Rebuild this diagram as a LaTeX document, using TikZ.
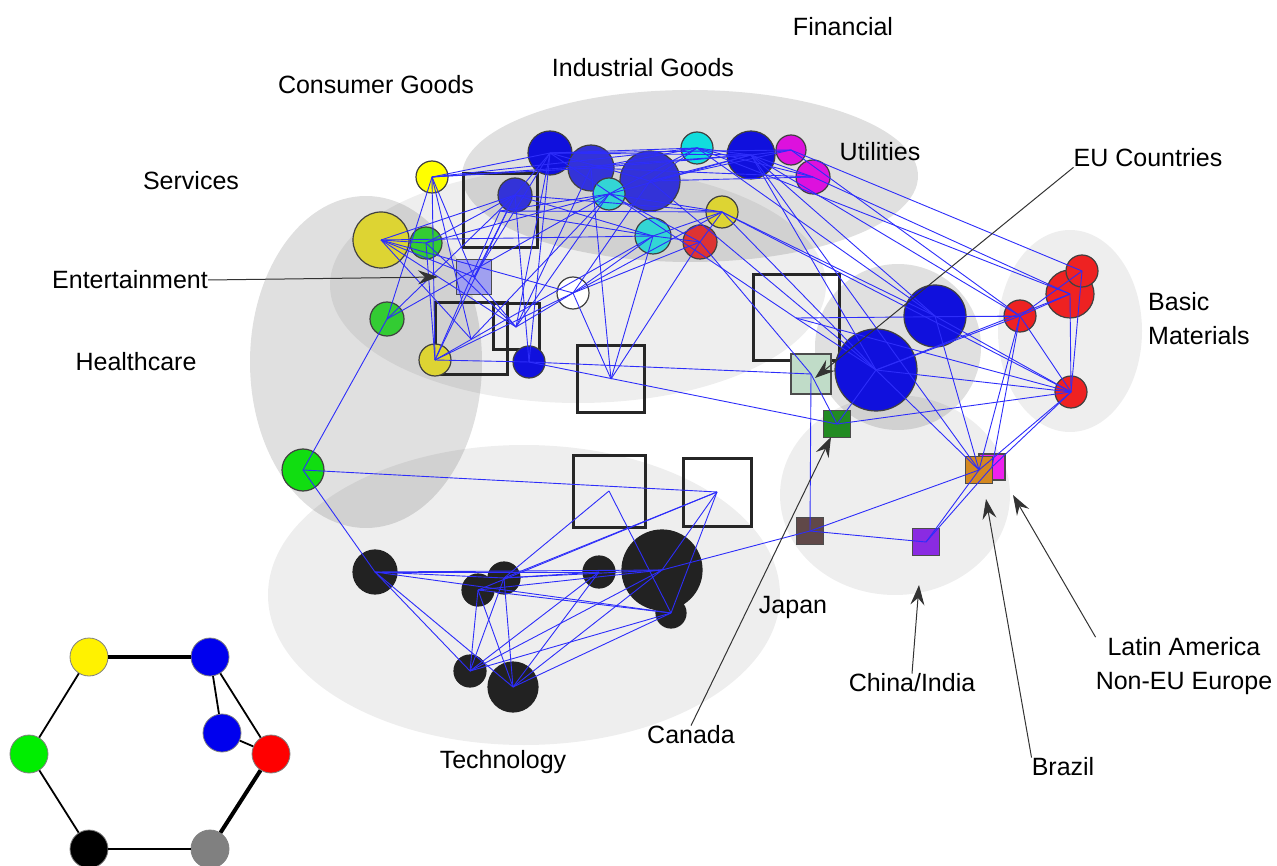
\documentclass[tikz,border=0pt]{standalone}
\usepackage{fontspec}
\setmainfont{Liberation Sans}
\usetikzlibrary{arrows.meta}

\definecolor{linkblue}{RGB}{45,45,250}
\definecolor{nblue}{RGB}{16,16,221}
\definecolor{nblueb}{RGB}{51,51,216}
\definecolor{ncyan}{RGB}{17,221,221}
\definecolor{ncyanb}{RGB}{51,213,213}
\definecolor{nmag}{RGB}{221,17,221}
\definecolor{nyel}{RGB}{255,255,0}
\definecolor{nyelb}{RGB}{221,212,51}
\definecolor{ngreen}{RGB}{51,204,51}
\definecolor{ngreenb}{RGB}{17,221,17}
\definecolor{nred}{RGB}{221,51,51}
\definecolor{nredb}{RGB}{238,34,34}
\definecolor{nblack}{RGB}{34,34,34}
\definecolor{entfill}{RGB}{160,160,240}
\definecolor{eufill}{RGB}{192,220,200}
\definecolor{canfill}{RGB}{34,139,34}
\definecolor{japfill}{RGB}{96,72,72}
\definecolor{chifill}{RGB}{138,43,226}
\definecolor{latfill}{RGB}{238,34,238}
\definecolor{brafill}{RGB}{212,136,32}

\begin{document}
\begin{tikzpicture}[x=1pt, y=-1pt, >=Stealth,
        bub/.style={circle, draw=black!75, line width=1.2pt, inner sep=0pt},
        sqbox/.style={draw=black!85, line width=3pt, inner sep=0pt},
        fillsq/.style={draw=black!70, line width=1.2pt, inner sep=0pt},
        link/.style={draw=linkblue, line width=0.9pt},
        lbl/.style={font=\fontsize{25}{34}\selectfont, inner sep=0pt},
        pointer/.style={-{Stealth[length=20pt,width=14pt,inset=7pt]}, draw=black!80, line width=1pt},
        lightblob/.style={fill=black, fill opacity=0.065},
        darkblob/.style={fill=black, fill opacity=0.12},
        legnode/.style={circle, draw=black!50, line width=0.8pt, inner sep=0pt, minimum size=38pt}]

    \useasboundingbox (0,0) rectangle (1277,866);

    % grey areas
    \path[darkblob] (690,176) ellipse [x radius=228pt, y radius=86pt];
    \path[lightblob] (578,285) ellipse [x radius=248pt, y radius=118pt];
    \path[darkblob] (366,362) ellipse [x radius=116pt, y radius=166pt];
    \path[lightblob] (524,595) ellipse [x radius=256pt, y radius=150pt];
    \path[lightblob] (895,495) ellipse [x radius=115pt, y radius=100pt];
    \path[darkblob] (898,347) ellipse [x radius=83pt, y radius=83pt];
    \path[lightblob] (1070,331) ellipse [x radius=72pt, y radius=101pt];

    % countries
    \node[sqbox, minimum size=74pt] (s1) at (500,211) {};
    \node[sqbox, minimum size=72pt] (s2) at (471,339) {};
    \node[sqbox, minimum size=46pt] (s3) at (516,327) {};
    \node[sqbox, minimum size=67pt] (s4) at (611,379) {};
    \node[sqbox, minimum size=86pt] (s5) at (796,318) {};
    \node[sqbox, minimum size=72pt] (s6) at (609,491) {};
    \node[sqbox, minimum size=68pt] (s7) at (717,492) {};
    \node[fillsq, fill=entfill, minimum size=35pt] (ent) at (474,277) {};
    \node[fillsq, fill=eufill, minimum size=40pt] (eu) at (811,374) {};
    \node[fillsq, fill=canfill, minimum size=27pt] (can) at (837,424) {};
    \node[fillsq, fill=japfill, minimum size=27pt] (jap) at (810,531) {};
    \node[fillsq, fill=chifill, minimum size=27pt] (chi) at (926,542) {};
    \node[fillsq, fill=latfill, minimum size=26pt] (lat) at (992,467) {};
    \node[fillsq, fill=brafill, minimum size=27pt] (bra) at (979,470) {};

    % sectors
    \node[bub, fill=nblue, minimum size=44pt] (b1) at (550,153) {};
    \node[bub, fill=nblueb, minimum size=46pt] (b2) at (591,168) {};
    \node[bub, fill=nblueb, minimum size=60pt] (b3) at (650,181) {};
    \node[bub, fill=nblue, minimum size=48pt] (b4) at (751,155) {};
    \node[bub, fill=nblueb, minimum size=34pt] (b5) at (515,195) {};
    \node[bub, fill=nblue, minimum size=62pt] (b6) at (935,316) {};
    \node[bub, fill=nblue, minimum size=82pt] (b7) at (876,370) {};
    \node[bub, fill=nblue, minimum size=32pt] (b8) at (529,362) {};
    \node[bub, fill=ncyan, minimum size=32pt] (c1) at (697,148) {};
    \node[bub, fill=ncyanb, minimum size=32pt] (c2) at (609,194) {};
    \node[bub, fill=ncyanb, minimum size=36pt] (c3) at (653,236) {};
    \node[bub, fill=nmag, minimum size=30pt] (m1) at (791,150) {};
    \node[bub, fill=nmag, minimum size=34pt] (m2) at (813,177) {};
    \node[bub, fill=nyel, minimum size=32pt] (y1) at (432,177) {};
    \node[bub, fill=nyelb, minimum size=56pt] (y2) at (381,240) {};
    \node[bub, fill=nyelb, minimum size=32pt] (y3) at (722,212) {};
    \node[bub, fill=nyelb, minimum size=32pt] (y4) at (435,360) {};
    \node[bub, fill=ngreen, minimum size=32pt] (g1) at (426,243) {};
    \node[bub, fill=ngreen, minimum size=34pt] (g2) at (387,319) {};
    \node[bub, fill=ngreenb, minimum size=42pt] (g3) at (303,470) {};
    \node[bub, fill=nred, minimum size=34pt] (r1) at (700,242) {};
    \node[bub, fill=nredb, minimum size=32pt] (r2) at (1020,316) {};
    \node[bub, fill=nredb, minimum size=48pt] (r3) at (1070,294) {};
    \node[bub, fill=nredb, minimum size=32pt] (r4) at (1082,271) {};
    \node[bub, fill=nredb, minimum size=32pt] (r5) at (1071,392) {};
    \node[bub, fill=white, minimum size=32pt] (w1) at (573,293) {};
    \node[bub, fill=nblack, draw=nblack, minimum size=44pt] (k1) at (375,572) {};
    \node[bub, fill=nblack, draw=nblack, minimum size=32pt] (k2) at (504,578) {};
    \node[bub, fill=nblack, draw=nblack, minimum size=32pt] (k3) at (478,590) {};
    \node[bub, fill=nblack, draw=nblack, minimum size=32pt] (k4) at (599,572) {};
    \node[bub, fill=nblack, draw=nblack, minimum size=80pt] (k5) at (662,570) {};
    \node[bub, fill=nblack, draw=nblack, minimum size=30pt] (k6) at (671,613) {};
    \node[bub, fill=nblack, draw=nblack, minimum size=32pt] (k7) at (470,671) {};
    \node[bub, fill=nblack, draw=nblack, minimum size=50pt] (k8) at (513,687) {};

    % links
    \path[link] (y1.center) edge (b1.center) edge (b2.center) edge (c1.center) edge (b4.center) edge (g2.center) edge (y4.center) edge (s2.center) edge (ent.center);
    \path[link] (b1.center) edge (c1.center) edge (b4.center) edge (m1.center) edge (b3.center);
    \path[link] (b2.center) edge (c1.center) edge (b4.center) edge (m2.center);
    \path[link] (b3.center) edge (c1.center) edge (b4.center) edge (m1.center) edge (m2.center) edge (b7.center);
    \path[link] (c1.center) edge (b4.center) edge (m2.center) edge (r3.center) edge (b6.center);
    \path[link] (b4.center) edge (m1.center) edge (m2.center) edge (r2.center) edge (b7.center) edge (b6.center) edge (bra.center);
    \path[link] (m1.center) edge (r4.center) edge (r2.center);
    \path[link] (m2.center) edge (r3.center);
    \path[link] (c2.center) edge (c1.center) edge (b4.center) edge (y3.center) edge (r1.center);
    \path[link] (y3.center) edge (b6.center) edge (r5.center) edge (b7.center);
    \path[link] (r1.center) edge (eu.center) edge (y3.center);
    \path[link] (s5.center) edge (b1.center) edge (b7.center) edge (r2.center) edge (r5.center);
    \path[link] (y2.center) edge (g1.center) edge (ent.center) edge (s2.center) edge (s3.center) edge (w1.center) edge (c3.center) edge (b5.center);
    \path[link] (g1.center) edge (b5.center) edge (c2.center) edge (y4.center) edge (s3.center);
    \path[link] (g2.center) edge (b5.center) edge (c2.center) edge (g3.center);
    \path[link] (y4.center) edge (b8.center) edge (w1.center) edge (b5.center) edge (c3.center) edge (s1.center);
    \path[link] (ent.center) edge (b5.center) edge (s3.center) edge (b1.center);
    \path[link] (s1.center) edge (c2.center) edge (y3.center) edge (c3.center);
    \path[link] (s3.center) edge (b1.center) edge (c2.center) edge (b2.center) edge (w1.center);
    \path[link] (b8.center) edge (b5.center) edge (b1.center) edge (eu.center) edge (can.center);
    \path[link] (w1.center) edge (c3.center) edge (r1.center) edge (y3.center) edge (s4.center) edge (b3.center);
    \path[link] (s4.center) edge (c3.center) edge (r1.center) edge (b2.center);
    \path[link] (c3.center) edge (r1.center) edge (y3.center);
    \path[link] (b5.center) edge (y3.center) edge (c3.center) edge (b1.center);
    \path[link] (s2.center) edge (c2.center);
    \path[link] (b6.center) edge (r2.center) edge (r5.center) edge (bra.center);
    \path[link] (b7.center) edge (r2.center) edge (r5.center) edge (bra.center) edge (r3.center) edge (can.center);
    \path[link] (r2.center) edge (r3.center) edge (r4.center) edge (r5.center) edge (bra.center) edge (lat.center);
    \path[link] (r5.center) edge (r3.center) edge (r4.center) edge (bra.center) edge (lat.center) edge (can.center);
    \path[link] (bra.center) edge (chi.center) edge (jap.center);
    \path[link] (lat.center) edge (chi.center);
    \path[link] (jap.center) edge (chi.center) edge (eu.center) edge (k5.center);
    \path[link] (eu.center) edge (can.center);
    \path[link] (g3.center) edge (k1.center) edge (s7.center);
    \path[link] (k1.center) edge (k2.center) edge (k4.center) edge (k5.center) edge (k6.center) edge (k7.center) edge (k8.center);
    \path[link] (k2.center) edge (k4.center) edge (k5.center) edge (k7.center) edge (k8.center);
    \path[link] (k3.center) edge (k5.center) edge (k6.center) edge (k7.center) edge (k8.center);
    \path[link] (k4.center) edge (k7.center) edge (k8.center);
    \path[link] (k5.center) edge (k7.center) edge (k8.center);
    \path[link] (k6.center) edge (k7.center) edge (k8.center);
    \path[link] (s6.center) edge (k2.center) edge (k6.center);
    \path[link] (s7.center) edge (k2.center) edge (k3.center) edge (k5.center) edge (k6.center);

    % labels
    \node[lbl] (finlbl) at (843,27) {Financial};
    \node[lbl] (indlbl) at (643,68) {Industrial Goods};
    \node[lbl] (conlbl) at (376,85) {Consumer Goods};
    \node[lbl] (utillbl) at (880,152) {Utilities};
    \node[lbl] (servlbl) at (191,181) {Services};
    \node[lbl] (eulbl) at (1148,158) {EU Countries};
    \node[lbl] (entlbl) at (130,280) {Entertainment};
    \node[lbl, align=left, anchor=west] (baslbl) at (1148,319) {Basic\\Materials};
    \node[lbl] (heallbl) at (136,362) {Healthcare};
    \node[lbl] (japlbl) at (793,607) {Japan};
    \node[lbl] (chilbl) at (912,683) {China/India};
    \node[lbl, align=center] (latlbl) at (1184,666) {Latin America\\Non-EU Europe};
    \node[lbl] (canlbl) at (691,735) {Canada};
    \node[lbl] (techlbl) at (503,762) {Technology};
    \node[lbl] (bralbl) at (1063,767) {Brazil};

    % arrows
    \coordinate (enttip) at (438,277);
    \coordinate (eutip) at (815,378);
    \coordinate (cantip) at (831,437);
    \coordinate (chitip) at (919,585);
    \coordinate (bratip) at (986,499);
    \coordinate (lattip) at (1013,495);
    \draw[pointer] (entlbl.east) -- (enttip);
    \draw[pointer] (eulbl.south west) -- (eutip);
    \draw[pointer] (canlbl.north) -- (cantip);
    \draw[pointer] (chilbl.north) -- (chitip);
    \draw[pointer] (bralbl.north west) -- (bratip);
    \draw[pointer] (latlbl.north west) -- (lattip);

    % legend
    \node[legnode, fill=yellow] (ly) at (89,657) {};
    \node[legnode, fill={rgb,255:red,0;green,0;blue,238}] (lb) at (210,657) {};
    \node[legnode, fill={rgb,255:red,0;green,0;blue,238}] (lb2) at (222,733) {};
    \node[legnode, fill=red] (lr) at (271,754) {};
    \node[legnode, fill={rgb,255:red,0;green,238;blue,0}] (lg) at (29,754) {};
    \node[legnode, fill=black] (lk) at (89,849) {};
    \node[legnode, fill=gray] (lgr) at (210,849) {};
    \draw[line width=4pt] (ly) -- (lb);
    \draw[line width=4pt] (lgr) -- (lr);
    \draw[line width=1.8pt] (ly) -- (lg);
    \draw[line width=1.8pt] (lg) -- (lk);
    \draw[line width=1.8pt] (lk) -- (lgr);
    \draw[line width=1.8pt] (lb) -- (lr);
    \draw[line width=1.8pt] (lb) -- (lb2);
    \draw[line width=1.8pt] (lb2) -- (lr);
\end{tikzpicture}
\end{document}
